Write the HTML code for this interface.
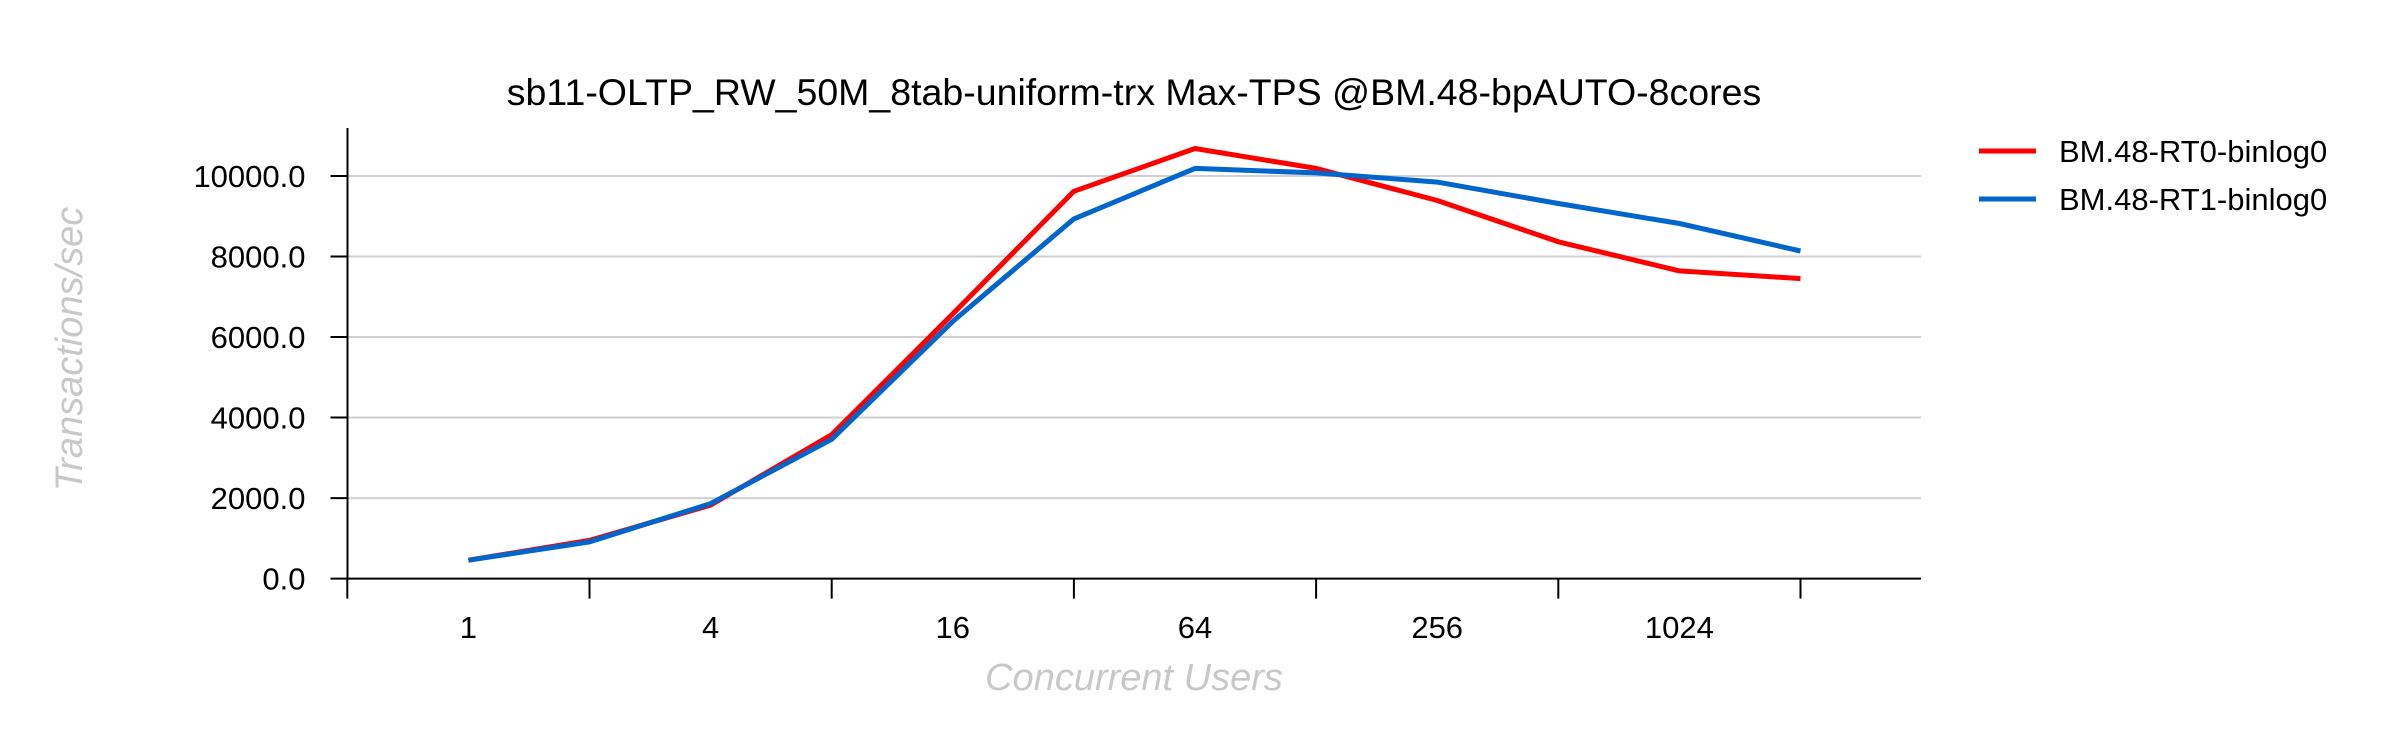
<!DOCTYPE html>
<html><head><meta charset="utf-8"><style>
html,body{margin:0;padding:0;background:#fff;}
svg{display:block;font-family:"Liberation Sans",sans-serif;}
</style></head><body>
<svg id="chart" width="2400" height="748" viewBox="0 0 2400 748" xmlns="http://www.w3.org/2000/svg">
<rect width="2400" height="748" fill="#fff"/>
<text x="1134" y="105" font-size="37.5" text-anchor="middle" fill="#000">sb11-OLTP_RW_50M_8tab-uniform-trx Max-TPS @BM.48-bpAUTO-8cores</text>
<g id="grid"></g>
<g id="axes"></g>
<g id="series"></g>
<text x="1134" y="690" font-size="38" font-style="italic" text-anchor="middle" fill="#c8c8c8">Concurrent Users</text>
<text transform="translate(82,349) rotate(-90)" font-size="38" font-style="italic" text-anchor="middle" fill="#c8c8c8">Transactions/sec</text>
<g>
<line x1="1979" y1="151" x2="2036" y2="151" stroke="#ff0000" stroke-width="5"/>
<text x="2059" y="162" font-size="31" fill="#000">BM.48-RT0-binlog0</text>
<line x1="1979" y1="199" x2="2036" y2="199" stroke="#0066cc" stroke-width="5"/>
<text x="2059" y="210" font-size="31" fill="#000">BM.48-RT1-binlog0</text>
</g>
</svg>
<script>
const categories = ["1","2","4","8","16","32","64","128","256","512","1024","2048"];
const rt0Values = [456, 950, 1825, 3574, 6578, 9620, 10684, 10190, 9392, 8365, 7643, 7452];
const rt1Values = [456, 912, 1863, 3460, 6388, 8935, 10190, 10076, 9848, 9316, 8821, 8137];
const yTicks = [0, 2000, 4000, 6000, 8000, 10000];
const yTickLabels = ["0.0","2000.0","4000.0","6000.0","8000.0","10000.0"];

const NS = "http://www.w3.org/2000/svg";
const left = 347.5, right = 1921, y0 = 578.6, pxPer = 40.26 / 1000;
const x0 = 468.4, step = 121.1;
function xScale(i){ return x0 + i * step; }
function yScale(v){ return y0 - v * pxPer; }
function mk(tag, attrs, parent){ const e = document.createElementNS(NS, tag); for (const k in attrs) e.setAttribute(k, attrs[k]); parent.appendChild(e); return e; }

const grid = document.getElementById('grid');
const axes = document.getElementById('axes');
const series = document.getElementById('series');

yTicks.forEach((v, i) => {
  const y = yScale(v);
  if (v !== 0) {
    const g = mk('line', {x1: left, x2: right, y1: y, y2: y, stroke: '#d0d0d0', 'stroke-width': 2}, grid);
    
    
  }
  const t = mk('line', {x1: left - 17, x2: left, y1: y, y2: y, stroke: '#000', 'stroke-width': 2}, axes);
  
  
  const l = mk('text', {x: left - 42, y: y + 11, 'font-size': 31, 'text-anchor': 'end', fill: '#000'}, axes);
  l.textContent = yTickLabels[i];
  
  
});

const ya = mk('line', {x1: left, x2: left, y1: 128, y2: y0, stroke: '#000', 'stroke-width': 2}, axes);


const xa = mk('line', {x1: left, x2: right, y1: y0, y2: y0, stroke: '#000', 'stroke-width': 2}, axes);



for (let i = -1; i < categories.length; i += 2) {
  const x = xScale(i);
  const t = mk('line', {x1: x, x2: x, y1: y0, y2: y0 + 20, stroke: '#000', 'stroke-width': 2}, axes);
  
  
}
categories.forEach((c, i) => {
  if (i % 2 !== 0) return;
  const l = mk('text', {x: xScale(i), y: 638, 'font-size': 31, 'text-anchor': 'middle', fill: '#000'}, axes);
  l.textContent = c;
  
  
});

function drawLine(vals, color, name){
  const pts = vals.map((v, i) => xScale(i).toFixed(1) + ',' + yScale(v).toFixed(1)).join(' ');
  const p = mk('polyline', {points: pts, fill: 'none', stroke: color, 'stroke-width': 5, 'stroke-linejoin': 'round'}, series);
  
  
}
drawLine(rt0Values, '#ff0000', 'series-rt0-line');
drawLine(rt1Values, '#0066cc', 'series-rt1-line');
</script>
</body></html>
